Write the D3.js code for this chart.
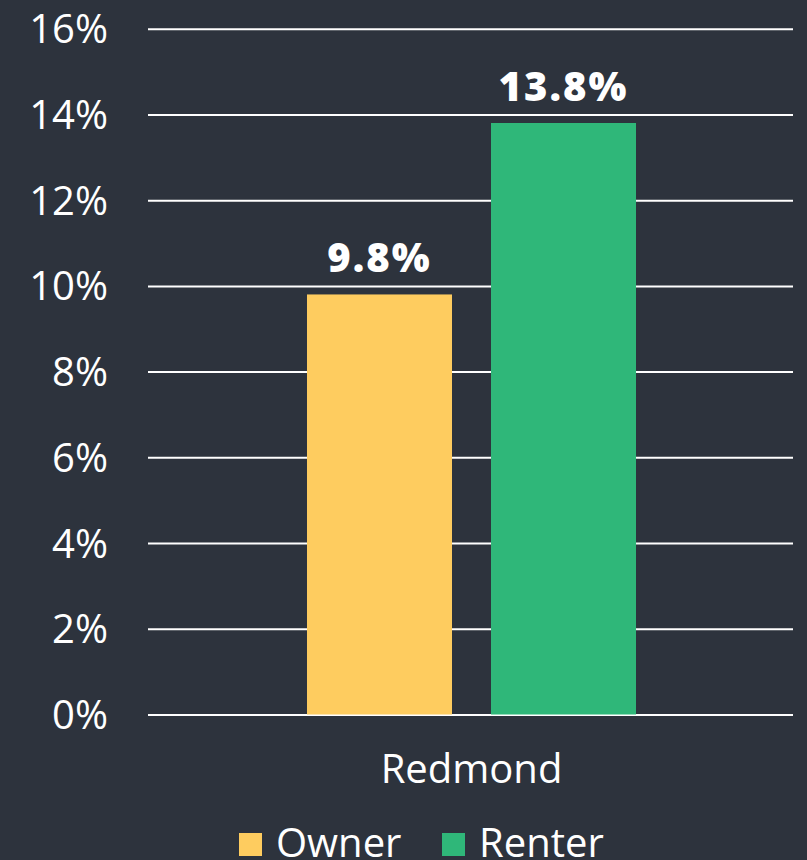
<!DOCTYPE html>
<html>
<head>
<meta charset="utf-8">
<script src="https://cdn.jsdelivr.net/npm/d3@7"></script>
<style>
  html, body { margin: 0; padding: 0; background: #2d333d; overflow: hidden; }
  svg { display: block; }
  text { font-family: "Open Sans", Lato, sans-serif; fill: #ffffff; }
</style>
</head>
<body>
<svg id="chart" width="807" height="860"></svg>
<script>
const categories = ["Redmond"];
const seriesNames = ["Owner", "Renter"];
const ownerValues = [9.8];
const renterValues = [13.8];
const seriesColors = ["#fecc5f", "#2fb779"];
const yTicks = [0, 2, 4, 6, 8, 10, 12, 14, 16];

const W = 807, H = 860;
const FONT = "'Open Sans', Lato, sans-serif";
const svg = d3.select("#chart");
svg.append("rect").attr("width", W).attr("height", H).attr("fill", "#2d333d");

const x0 = d3.scaleBand().domain(categories).range([149, 794]).paddingInner(0).paddingOuter(0.4802);
const x1 = d3.scaleBand().domain(seriesNames).range([0, x0.bandwidth()]).paddingInner(0.212).paddingOuter(0);
const y = d3.scaleLinear().domain([0, 16]).range([714.5, 28.7]);

// gridlines
const grid = svg.append("g")
  .attr("transform", "translate(148,0)")
  .call(d3.axisLeft(y).tickValues(yTicks).tickSize(-(793 - 148)).tickFormat(""));
grid.select(".domain").remove();
grid.selectAll(".tick line").attr("stroke", "#ffffff").attr("stroke-width", 2);

// y tick labels
const yAxis = svg.append("g")
  .attr("transform", "translate(108,0)")
  .call(d3.axisLeft(y).tickValues(yTicks).tickSize(0).tickPadding(0).tickFormat(d => d + "%"));
yAxis.select(".domain").remove();
yAxis.selectAll(".tick text")
  .attr("fill", "#ffffff")
  .attr("font-size", 40)
  .attr("font-weight", 400)
  .attr("font-family", FONT)
  .attr("text-anchor", "end")
  .attr("dy", "0.35em");

const data = categories.map((c, i) => ({
  category: c,
  values: [
    { series: "Owner", value: ownerValues[i] },
    { series: "Renter", value: renterValues[i] }
  ]
}));
const color = d3.scaleOrdinal().domain(seriesNames).range(seriesColors);

const groups = svg.append("g").selectAll("g").data(data).join("g")
  .attr("transform", d => `translate(${x0(d.category)},0)`);

groups.selectAll("rect").data(d => d.values).join("rect")
  .attr("x", d => x1(d.series))
  .attr("width", x1.bandwidth())
  .attr("y", d => y(d.value))
  .attr("height", d => y(0) - y(d.value))
  .attr("fill", d => color(d.series));

groups.selectAll("text.val").data(d => d.values).join("text")
  .attr("class", "val")
  .attr("x", d => x1(d.series) + x1.bandwidth() / 2)
  .attr("y", d => y(d.value) - 22)
  .attr("text-anchor", "middle")
  .attr("font-size", 40)
  .attr("font-weight", 800)
  .attr("letter-spacing", 2)
  .text(d => d.value.toFixed(1) + "%");

// x axis labels
const xAxis = svg.append("g")
  .attr("transform", "translate(0,714.5)")
  .call(d3.axisBottom(x0).tickSize(0).tickPadding(0));
xAxis.select(".domain").remove();
xAxis.selectAll(".tick text")
  .attr("fill", "#ffffff")
  .attr("font-size", 40)
  .attr("font-weight", 400)
  .attr("font-family", FONT)
  .attr("dy", null)
  .attr("y", 68.5);

// legend
const legendX = [239, 442];
const legend = svg.append("g").selectAll("g").data(seriesNames).join("g")
  .attr("transform", (d, i) => `translate(${legendX[i]},833)`);
legend.append("rect").attr("width", 23).attr("height", 23).attr("fill", d => color(d));
legend.append("text")
  .attr("x", 37).attr("y", 24)
  .attr("font-size", 40)
  .attr("font-weight", 400)
  .text(d => d);
</script>
</body>
</html>
